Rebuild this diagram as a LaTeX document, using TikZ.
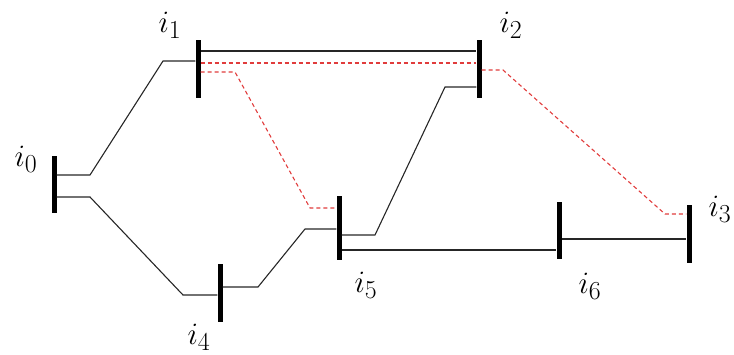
\documentclass[tikz,border=0pt]{standalone}
\usetikzlibrary{calc}
\definecolor{dashred}{RGB}{225,60,60}
\begin{document}
\begin{tikzpicture}[x=1pt,y=-1pt,
  busbar/.style={rectangle,fill=black,draw=none,inner sep=0pt,minimum width=5pt},
  wire/.style={draw=black!85,line width=1.1pt},
  rwire/.style={draw=dashred,line width=1.1pt,dash pattern=on 4pt off 3pt},
  lbl/.style={inner sep=0pt,font=\Huge,scale=1.25}]
\useasboundingbox (0,0) rectangle (734,354);
% buses
\node[busbar,minimum height=57pt] (b0) at (54,184.5) {};
\node[busbar,minimum height=58pt] (b1) at (198,69) {};
\node[busbar,minimum height=58pt] (b2) at (479,69) {};
\node[busbar,minimum height=58pt] (b3) at (689,234) {};
\node[busbar,minimum height=58pt] (b4) at (220,293) {};
\node[busbar,minimum height=64pt] (b5) at (339,228) {};
\node[busbar,minimum height=57pt] (b6) at (559,230.5) {};
% labels
\node[lbl] (l0) at (26,159) {$i_0$};
\node[lbl] (l1) at (170,25) {$i_1$};
\node[lbl] (l2) at (511,25) {$i_2$};
\node[lbl] (l3) at (720,209) {$i_3$};
\node[lbl] (l4) at (199,337) {$i_4$};
\node[lbl] (l5) at (366,285) {$i_5$};
\node[lbl] (l6) at (590,286) {$i_6$};
% solid lines
\draw[wire] ($(b0.east)+(0,-9.5)$) -- (90,175) -- (163,61) -- ($(b1.west)+(0,-8)$);
\draw[wire] ($(b1.east)+(0,-18)$) -- ($(b2.west)+(0,-18)$);
\draw[wire] ($(b2.west)+(0,18)$) -- (445,87) -- (375,235) -- ($(b5.east)+(0,7)$);
\draw[wire] ($(b5.west)+(0,1)$) -- (305,229) -- (258,287) -- ($(b4.east)+(0,-6)$);
\draw[wire] ($(b4.west)+(0,2)$) -- (183,295) -- (90,197) -- ($(b0.east)+(0,12.5)$);
\draw[wire] ($(b5.east)+(0,22)$) -- ($(b6.west)+(0,19.5)$);
\draw[wire] ($(b6.east)+(0,8.5)$) -- ($(b3.west)+(0,5)$);
% dashed red lines
\draw[rwire] ($(b1.east)+(0,-6)$) -- ($(b2.west)+(0,-6)$);
\draw[rwire] ($(b1.east)+(0,3)$) -- (235,72) -- (310,208) -- ($(b5.west)+(0,-20)$);
\draw[rwire] ($(b2.east)+(0,1)$) -- (503,70) -- (665,214) -- ($(b3.west)+(0,-20)$);
\end{tikzpicture}
\end{document}
